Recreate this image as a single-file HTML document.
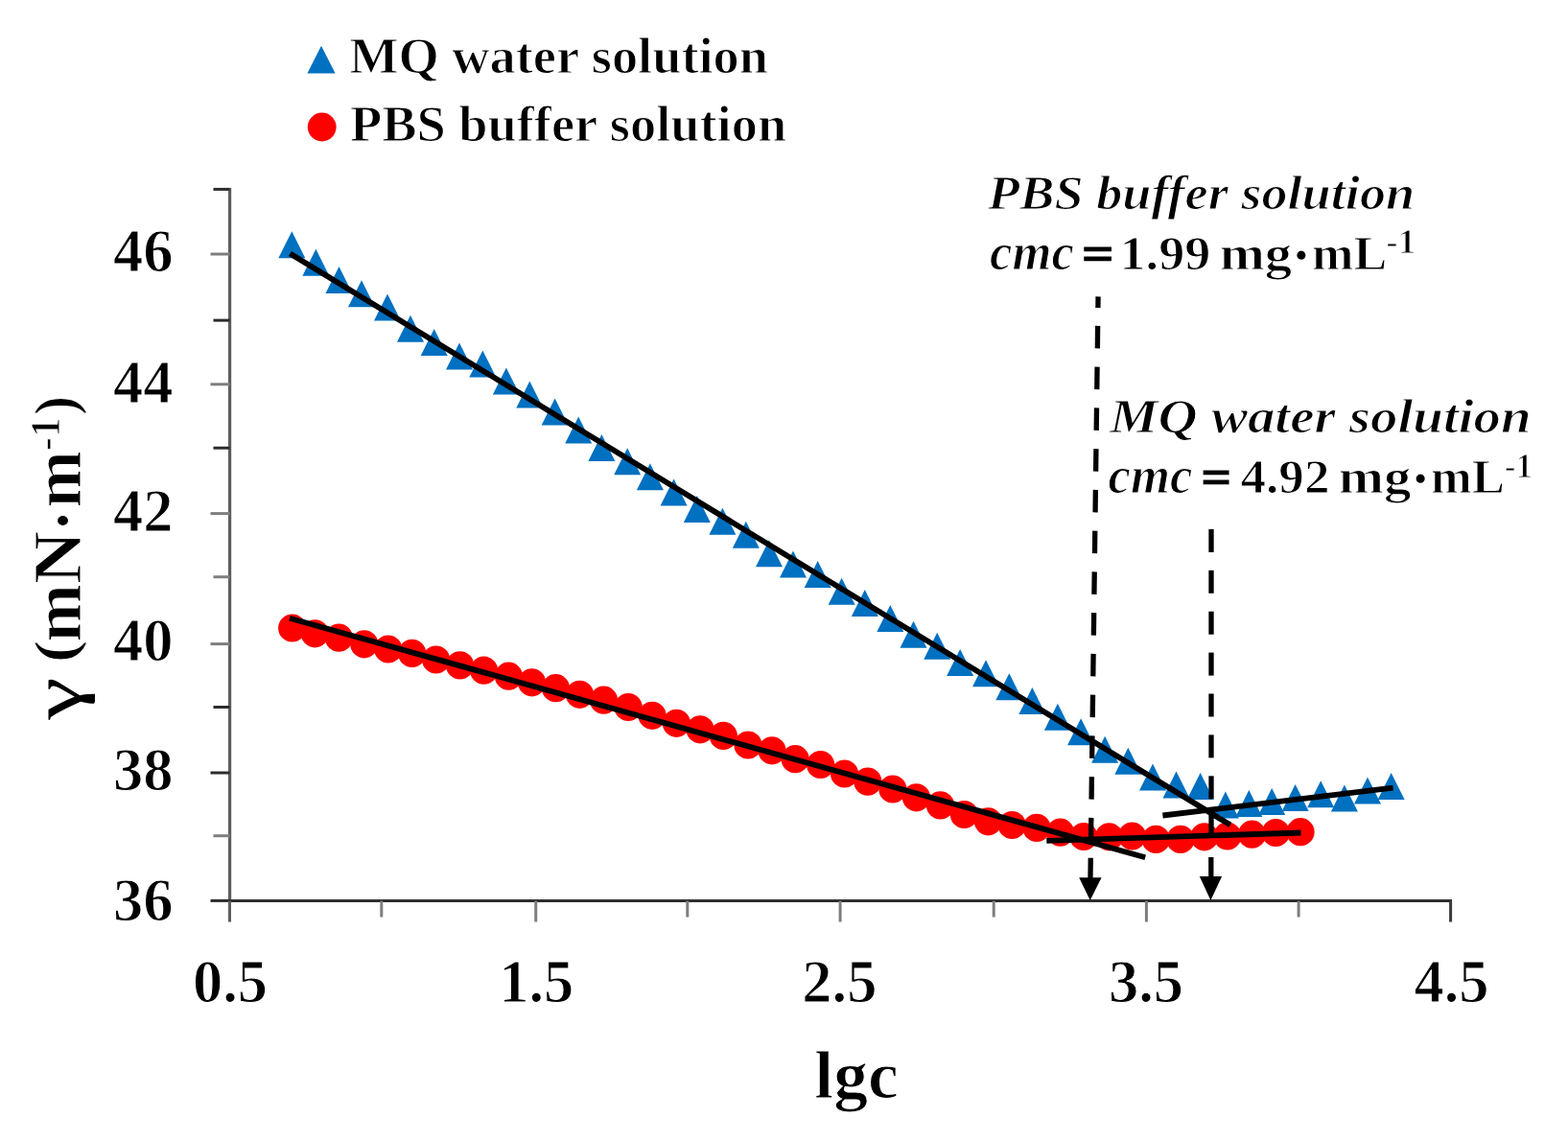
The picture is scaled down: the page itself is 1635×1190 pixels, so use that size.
<!DOCTYPE html>
<html><head><meta charset="utf-8"><title>Surface tension vs lgc</title>
<style>
html,body{margin:0;padding:0;background:#fff;}
body{width:1635px;height:1190px;overflow:hidden;}
svg{display:block;}
#wrap{width:1635px;height:1190px;}
text{font-family:"Liberation Serif","Times New Roman",serif;font-weight:bold;fill:#000;stroke:#fff;stroke-width:1.1px;}
.it{font-style:italic;}
.rg{font-weight:normal;stroke:none;}
.eq{stroke:#000;stroke-width:1.2px;}
</style></head><body>
<div id="wrap"><svg width="1635" height="1190" viewBox="0 0 1635 1190">
<rect x="0" y="0" width="1635" height="1190" fill="#fff"/>
<g stroke-linecap="butt">
<line x1="239.6" y1="196" x2="239.6" y2="941" stroke="#5e5e5e" stroke-width="3.2"/>
<line x1="238" y1="939.5" x2="1514" y2="939.5" stroke="#2e2e2e" stroke-width="3.2"/>
<line x1="219.5" y1="939.4" x2="239.6" y2="939.4" stroke="#2c2c2c" stroke-width="3"/>
<line x1="222.5" y1="871.7" x2="239.6" y2="871.7" stroke="#7e7e7e" stroke-width="3"/>
<line x1="219.5" y1="806" x2="239.6" y2="806" stroke="#2c2c2c" stroke-width="3"/>
<line x1="222.5" y1="737.5" x2="239.6" y2="737.5" stroke="#2c2c2c" stroke-width="3"/>
<line x1="219.5" y1="671.6" x2="239.6" y2="671.6" stroke="#7e7e7e" stroke-width="3"/>
<line x1="222.5" y1="601.7" x2="239.6" y2="601.7" stroke="#7e7e7e" stroke-width="3"/>
<line x1="219.5" y1="535.6" x2="239.6" y2="535.6" stroke="#7e7e7e" stroke-width="3"/>
<line x1="222.5" y1="467.2" x2="239.6" y2="467.2" stroke="#2c2c2c" stroke-width="3"/>
<line x1="219.5" y1="400.8" x2="239.6" y2="400.8" stroke="#7e7e7e" stroke-width="3"/>
<line x1="222.5" y1="334.1" x2="239.6" y2="334.1" stroke="#2c2c2c" stroke-width="3"/>
<line x1="219.5" y1="265" x2="239.6" y2="265" stroke="#7e7e7e" stroke-width="3"/>
<line x1="222.5" y1="197.4" x2="239.6" y2="197.4" stroke="#2c2c2c" stroke-width="3"/>
<line x1="239.5" y1="939.5" x2="239.5" y2="961.5" stroke="#5e5e5e" stroke-width="3"/>
<line x1="397.8" y1="939.5" x2="397.8" y2="956.5" stroke="#7e7e7e" stroke-width="3"/>
<line x1="558.7" y1="939.5" x2="558.7" y2="961.5" stroke="#7e7e7e" stroke-width="3"/>
<line x1="716.8" y1="939.5" x2="716.8" y2="956.5" stroke="#7e7e7e" stroke-width="3"/>
<line x1="876.1" y1="939.5" x2="876.1" y2="961.5" stroke="#7e7e7e" stroke-width="3"/>
<line x1="1036.2" y1="939.5" x2="1036.2" y2="956.5" stroke="#7e7e7e" stroke-width="3"/>
<line x1="1195.4" y1="939.5" x2="1195.4" y2="961.5" stroke="#7e7e7e" stroke-width="3"/>
<line x1="1354.1" y1="939.5" x2="1354.1" y2="956.5" stroke="#7e7e7e" stroke-width="3"/>
<line x1="1512.6" y1="939.5" x2="1512.6" y2="961.5" stroke="#3a3a3a" stroke-width="3"/>
</g>
<g fill="#0070C0">
<path d="M304.3 241.2L318.3 269.2L290.3 269.2Z"/>
<path d="M329.4 259.7L343.4 287.7L315.4 287.7Z"/>
<path d="M353.5 278L367.5 306L339.5 306Z"/>
<path d="M377 292.3L391 320.3L363 320.3Z"/>
<path d="M404 306.5L418 334.5L390 334.5Z"/>
<path d="M428 328.8L442 356.8L414 356.8Z"/>
<path d="M452.7 343L466.7 371L438.7 371Z"/>
<path d="M479 357.4L493 385.4L465 385.4Z"/>
<path d="M503.3 365.4L517.3 393.4L489.3 393.4Z"/>
<path d="M527.9 383.4L541.9 411.4L513.9 411.4Z"/>
<path d="M552.3 397.6L566.3 425.6L538.3 425.6Z"/>
<path d="M578.6 415.5L592.6 443.5L564.6 443.5Z"/>
<path d="M603.2 434.4L617.2 462.4L589.2 462.4Z"/>
<path d="M627.4 453L641.4 481L613.4 481Z"/>
<path d="M654.2 467.2L668.2 495.2L640.2 495.2Z"/>
<path d="M677.9 483.2L691.9 511.2L663.9 511.2Z"/>
<path d="M702.6 499.4L716.6 527.4L688.6 527.4Z"/>
<path d="M726.8 516.9L740.8 544.9L712.8 544.9Z"/>
<path d="M753.4 529.8L767.4 557.8L739.4 557.8Z"/>
<path d="M777.8 543.8L791.8 571.8L763.8 571.8Z"/>
<path d="M802 563.3L816 591.3L788 591.3Z"/>
<path d="M827 574.4L841 602.4L813 602.4Z"/>
<path d="M852.7 585L866.7 613L838.7 613Z"/>
<path d="M877.6 602.8L891.6 630.8L863.6 630.8Z"/>
<path d="M901.8 614.9L915.8 642.9L887.8 642.9Z"/>
<path d="M928.3 631.1L942.3 659.1L914.3 659.1Z"/>
<path d="M952.5 647.8L966.5 675.8L938.5 675.8Z"/>
<path d="M977.2 659.7L991.2 687.7L963.2 687.7Z"/>
<path d="M1001.1 676.9L1015.1 704.9L987.1 704.9Z"/>
<path d="M1028 688.3L1042 716.3L1014 716.3Z"/>
<path d="M1052.3 702.3L1066.3 730.3L1038.3 730.3Z"/>
<path d="M1076.4 717L1090.4 745L1062.4 745Z"/>
<path d="M1102.9 733.7L1116.9 761.7L1088.9 761.7Z"/>
<path d="M1127.1 749.2L1141.1 777.2L1113.1 777.2Z"/>
<path d="M1152.1 767.7L1166.1 795.7L1138.1 795.7Z"/>
<path d="M1176.3 779.8L1190.3 807.8L1162.3 807.8Z"/>
<path d="M1202 796.5L1216 824.5L1188 824.5Z"/>
<path d="M1226.5 804.5L1240.5 832.5L1212.5 832.5Z"/>
<path d="M1251.6 806L1265.6 834L1237.6 834Z"/>
<path d="M1277.9 825.5L1291.9 853.5L1263.9 853.5Z"/>
<path d="M1302.3 824L1316.3 852L1288.3 852Z"/>
<path d="M1326.2 822L1340.2 850L1312.2 850Z"/>
<path d="M1350.6 818L1364.6 846L1336.6 846Z"/>
<path d="M1377.2 814.3L1391.2 842.3L1363.2 842.3Z"/>
<path d="M1401.9 818.5L1415.9 846.5L1387.9 846.5Z"/>
<path d="M1426 810.4L1440 838.4L1412 838.4Z"/>
<path d="M1450.6 806L1464.6 834L1436.6 834Z"/>
</g>
<g fill="#FF0000">
<circle cx="304.7" cy="655" r="14.6"/>
<circle cx="328.4" cy="660.8" r="14.6"/>
<circle cx="353.4" cy="665.2" r="14.6"/>
<circle cx="379.8" cy="671.8" r="14.6"/>
<circle cx="404.8" cy="677" r="14.6"/>
<circle cx="429.7" cy="681.4" r="14.6"/>
<circle cx="454.7" cy="688" r="14.6"/>
<circle cx="479.6" cy="693.9" r="14.6"/>
<circle cx="504.6" cy="699.2" r="14.6"/>
<circle cx="530.4" cy="705.2" r="14.6"/>
<circle cx="554.6" cy="711.8" r="14.6"/>
<circle cx="579.5" cy="717.7" r="14.6"/>
<circle cx="604.5" cy="724.3" r="14.6"/>
<circle cx="629.5" cy="730.2" r="14.6"/>
<circle cx="655.1" cy="737.5" r="14.6"/>
<circle cx="680.1" cy="746.3" r="14.6"/>
<circle cx="705.4" cy="754.3" r="14.6"/>
<circle cx="730.1" cy="760.8" r="14.6"/>
<circle cx="754.3" cy="767.4" r="14.6"/>
<circle cx="780" cy="777" r="14.6"/>
<circle cx="805" cy="782.8" r="14.6"/>
<circle cx="829.2" cy="791.7" r="14.6"/>
<circle cx="855.6" cy="797.5" r="14.6"/>
<circle cx="880.6" cy="807" r="14.6"/>
<circle cx="904.8" cy="815.1" r="14.6"/>
<circle cx="930.9" cy="823" r="14.6"/>
<circle cx="955.5" cy="831.8" r="14.6"/>
<circle cx="980.5" cy="839.9" r="14.6"/>
<circle cx="1005.4" cy="849.5" r="14.6"/>
<circle cx="1030.4" cy="856.8" r="14.6"/>
<circle cx="1055.3" cy="860.5" r="14.6"/>
<circle cx="1081" cy="863.4" r="14.6"/>
<circle cx="1105.6" cy="868.2" r="14.6"/>
<circle cx="1130" cy="872.5" r="14.6"/>
<circle cx="1156.5" cy="872.8" r="14.6"/>
<circle cx="1180.5" cy="872" r="14.6"/>
<circle cx="1205.3" cy="875.4" r="14.6"/>
<circle cx="1231" cy="875.4" r="14.6"/>
<circle cx="1255.8" cy="872.8" r="14.6"/>
<circle cx="1279.8" cy="872" r="14.6"/>
<circle cx="1305.5" cy="870.2" r="14.6"/>
<circle cx="1330.3" cy="868.5" r="14.6"/>
<circle cx="1356" cy="867.7" r="14.6"/>
</g>
<g stroke="#000" stroke-width="5.8" stroke-linecap="butt">
<line x1="302.5" y1="264.5" x2="1282.8" y2="860.3"/>
<line x1="1212.4" y1="850.5" x2="1452.6" y2="821.6"/>
<line x1="302" y1="644.7" x2="1194.2" y2="894.2"/>
<line x1="1091.3" y1="876.9" x2="1356.5" y2="868.5"/>
</g>
<g stroke="#000" stroke-width="5.3">
<line x1="1145.05" y1="309.4" x2="1144.9" y2="321"/>
<line x1="1144.65" y1="339.9" x2="1144.34" y2="363.4"/>
<line x1="1144.08" y1="382.65" x2="1143.77" y2="406.15"/>
<line x1="1143.51" y1="425.4" x2="1143.2" y2="448.9"/>
<line x1="1142.94" y1="468.15" x2="1142.63" y2="491.65"/>
<line x1="1142.37" y1="510.9" x2="1142.06" y2="534.4"/>
<line x1="1141.8" y1="553.65" x2="1141.49" y2="577.15"/>
<line x1="1141.24" y1="596.4" x2="1140.92" y2="619.9"/>
<line x1="1140.67" y1="639.15" x2="1140.36" y2="662.65"/>
<line x1="1140.1" y1="681.9" x2="1139.79" y2="705.4"/>
<line x1="1139.53" y1="724.65" x2="1139.22" y2="748.15"/>
<line x1="1138.96" y1="767.4" x2="1138.65" y2="790.9"/>
<line x1="1138.39" y1="810.15" x2="1138.08" y2="833.65"/>
<line x1="1137.82" y1="852.9" x2="1137.51" y2="876.4"/>
<line x1="1137.27" y1="894.8" x2="1136.97" y2="917"/>
<line x1="1263" y1="551.9" x2="1263" y2="575.9"/>
<line x1="1263" y1="594.8" x2="1263" y2="618.8"/>
<line x1="1263" y1="637.7" x2="1263" y2="661.7"/>
<line x1="1263" y1="680.6" x2="1263" y2="704.6"/>
<line x1="1263" y1="723.5" x2="1263" y2="747.5"/>
<line x1="1263" y1="766.4" x2="1263" y2="790.4"/>
<line x1="1263" y1="809.3" x2="1263" y2="833.3"/>
<line x1="1263" y1="845" x2="1263" y2="871"/>
<line x1="1262.8" y1="894" x2="1262.8" y2="916"/>
</g>
<g fill="#000">
<path d="M1125.2 915.2L1148.6 915.2L1136.7 939Z"/>
<path d="M1250.8 914.1L1274.1 914.1L1262.4 939Z"/>
</g>
<path d="M335 47.8L349.6 76.4L320.4 76.4Z" fill="#0070C0"/>
<circle cx="335.7" cy="132.5" r="14.9" fill="#FF0000"/>
<text x="364.15" y="76.3" font-size="52" textLength="436.89" lengthAdjust="spacingAndGlyphs">MQ water solution</text>
<text x="364.95" y="147.3" font-size="52" textLength="455.22" lengthAdjust="spacingAndGlyphs">PBS buffer solution</text>
<text x="1030.1" y="218.3" font-size="50" class="it" textLength="445.11" lengthAdjust="spacingAndGlyphs">PBS buffer solution</text>
<text x="1032.12" y="280.5" font-size="54" class="it" textLength="87.81" lengthAdjust="spacingAndGlyphs">cmc</text>
<text x="1127.94" y="280.5" font-size="51" class="eq" textLength="33.49" lengthAdjust="spacingAndGlyphs">=</text>
<text x="1167.55" y="280.5" font-size="51" textLength="94.73" lengthAdjust="spacingAndGlyphs">1.99</text>
<text x="1271.69" y="280.5" font-size="51" textLength="75.5" lengthAdjust="spacingAndGlyphs">mg</text>
<text x="1350.2" y="278.5" font-size="38" textLength="13.31" lengthAdjust="spacingAndGlyphs">•</text>
<text x="1367.98" y="280.5" font-size="51" textLength="78.28" lengthAdjust="spacingAndGlyphs">mL</text>
<text x="1445.34" y="264.3" font-size="35" textLength="30.95" lengthAdjust="spacingAndGlyphs">-1</text>
<text x="1156.94" y="451" font-size="50" class="it" textLength="439.79" lengthAdjust="spacingAndGlyphs">MQ water solution</text>
<text x="1155.62" y="513.8" font-size="54" class="it" textLength="87.81" lengthAdjust="spacingAndGlyphs">cmc</text>
<text x="1252.45" y="513.8" font-size="51" class="eq" textLength="31.46" lengthAdjust="spacingAndGlyphs">=</text>
<text x="1293.56" y="513.8" font-size="51" textLength="92.88" lengthAdjust="spacingAndGlyphs">4.92</text>
<text x="1395.69" y="513.8" font-size="51" textLength="75.61" lengthAdjust="spacingAndGlyphs">mg</text>
<text x="1474.6" y="511.8" font-size="38" textLength="13.31" lengthAdjust="spacingAndGlyphs">•</text>
<text x="1491.99" y="513.8" font-size="51" textLength="76.92" lengthAdjust="spacingAndGlyphs">mL</text>
<text x="1568.79" y="497.7" font-size="35" textLength="29.38" lengthAdjust="spacingAndGlyphs">-1</text>
<g font-size="62.5">
<text x="180.5" y="283.15" text-anchor="end">46</text>
<text x="180.5" y="419.85" text-anchor="end">44</text>
<text x="180.5" y="554.35" text-anchor="end">42</text>
<text x="180.5" y="688.85" text-anchor="end">40</text>
<text x="180.5" y="824.25" text-anchor="end">38</text>
<text x="180.5" y="959.55" text-anchor="end">36</text>
<text x="240" y="1045" text-anchor="middle">0.5</text>
<text x="559.2" y="1045" text-anchor="middle">1.5</text>
<text x="875.4" y="1045" text-anchor="middle">2.5</text>
<text x="1195" y="1045" text-anchor="middle">3.5</text>
<text x="1513.5" y="1045" text-anchor="middle">4.5</text>
</g>
<text x="849.29" y="1144.7" font-size="70.5" textLength="87.39" lengthAdjust="spacingAndGlyphs">lgc</text>
<g transform="translate(83.8 750.6) rotate(-90)">
<text x="0" y="0" font-size="71" class="rg" textLength="43.92" lengthAdjust="spacingAndGlyphs">γ</text>
<text x="59.48" y="-6.2" font-size="61" textLength="23.85" lengthAdjust="spacingAndGlyphs">(</text>
<text x="81.06" y="0" font-size="71" textLength="60.32" lengthAdjust="spacingAndGlyphs">m</text>
<text x="141.63" y="0" font-size="71" textLength="55.05" lengthAdjust="spacingAndGlyphs">N</text>
<text x="200.57" y="-4" font-size="44" textLength="14.12" lengthAdjust="spacingAndGlyphs">•</text>
<text x="220.99" y="0" font-size="71" textLength="59.37" lengthAdjust="spacingAndGlyphs">m</text>
<text x="280.71" y="-21.8" font-size="44" textLength="34.59" lengthAdjust="spacingAndGlyphs">-1</text>
<text x="317.61" y="-6.2" font-size="61" textLength="20.2" lengthAdjust="spacingAndGlyphs">)</text>
</g>
</svg></div>
</body></html>
